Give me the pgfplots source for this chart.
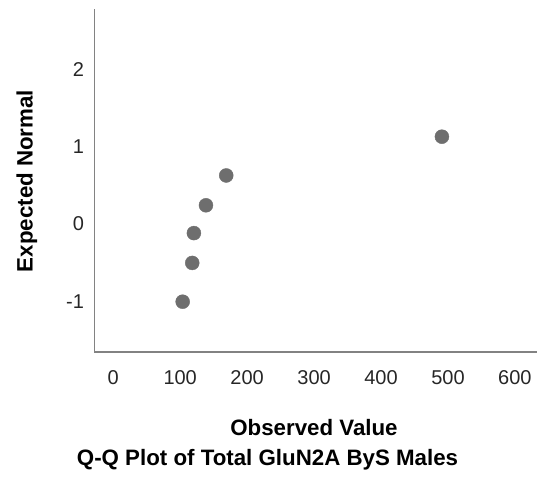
\documentclass[border=0pt]{standalone}
\usepackage{pgfplots}
\pgfplotsset{compat=1.18}
\usepackage{fontspec}
\setmainfont{Liberation Sans}
\definecolor{dotgray}{RGB}{110,110,110}
\definecolor{axgray}{RGB}{130,130,130}
\begin{document}
\begin{tikzpicture}
\path[use as bounding box] (-94.5pt,-126pt) rectangle (444.5pt,352pt);
\begin{axis}[
  at={(0pt,0pt)}, anchor=south west,
  scale only axis, width=442.5pt, height=343pt,
  xmin=-28, xmax=633, ymin=-1.719, ymax=2.721,
  axis x line=bottom, axis y line=left,
  axis line style={-, axgray, line width=1.3pt},
  xtick={0,100,...,600}, ytick={-1,0,1,2},
  major tick length=0pt,
  /pgf/number format/assume math mode=true,
  tick label style={font=\fontsize{20}{24}\selectfont, text=black!85},
  xticklabel style={yshift=-15pt},
  yticklabel style={xshift=-7pt, yshift=-4.8pt},
  xlabel={Observed Value},
  ylabel={Expected Normal},
  title={Q-Q Plot of Total GluN2A ByS Males},
  label style={font=\fontsize{22.3}{26}\selectfont\bfseries},
  xlabel style={at={(axis description cs:0.496,-0.2216)}, anchor=center},
  ylabel style={at={(axis description cs:-0.153,0.4985)}, anchor=center},
  title style={at={(axis description cs:0.391,-0.333)}, anchor=center, font=\fontsize{22.3}{26}\selectfont\bfseries},
  clip=false,
]
\addplot[only marks, mark=*, mark size=7pt, mark options={fill=dotgray, draw=dotgray}] coordinates {
  (103.7,-1.068) (118.0,-0.566) (120.5,-0.180) (138.5,0.180) (168.8,0.566) (491.0,1.068)
};
\end{axis}
\end{tikzpicture}
\end{document}
